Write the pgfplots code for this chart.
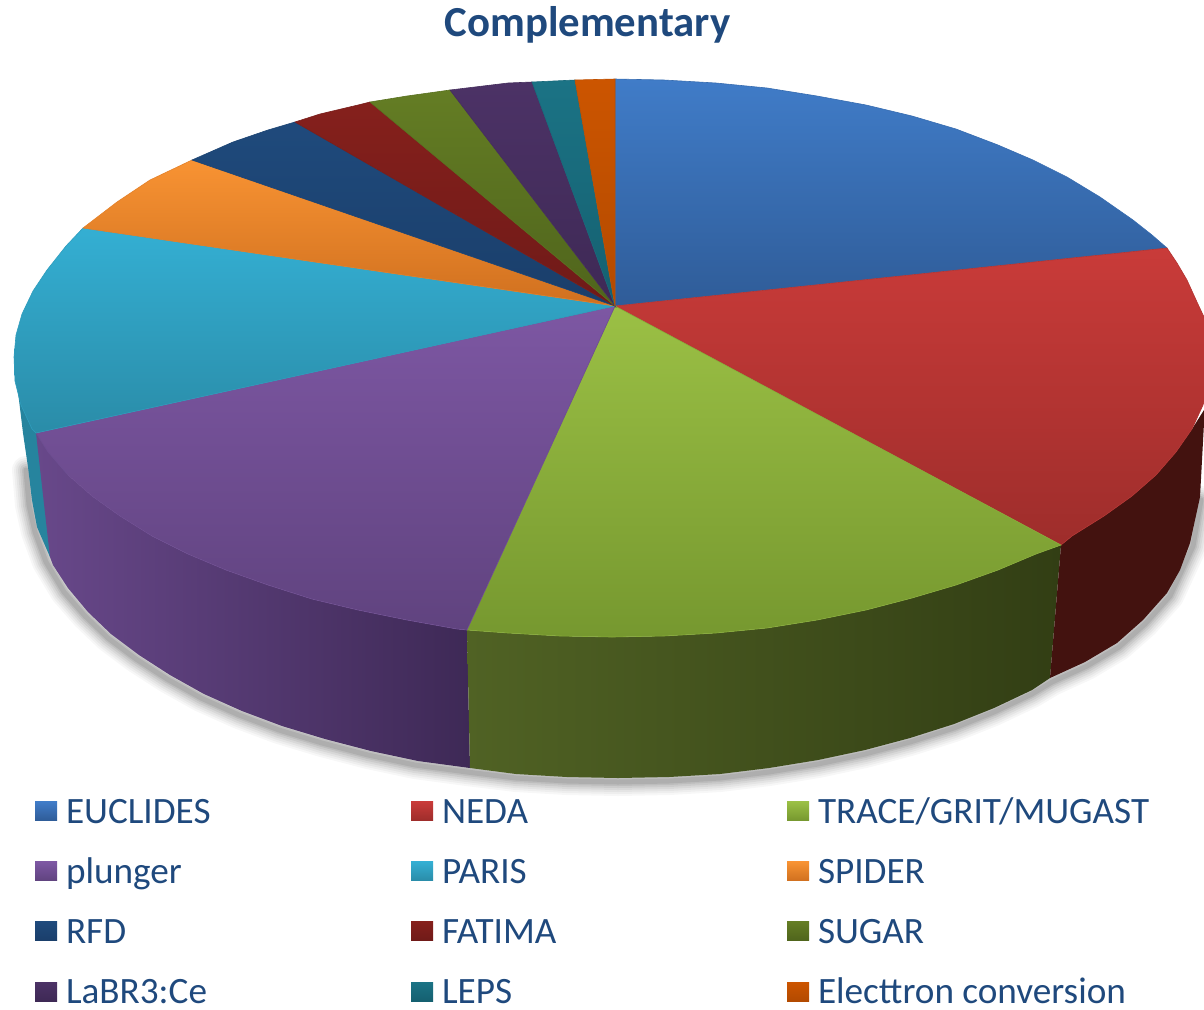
\documentclass[border=0pt]{standalone}
\usepackage{fontspec}
\setmainfont{Carlito}
\usepackage{pgfplots}
\pgfplotsset{compat=1.18}
\definecolor{txt}{HTML}{1F497D}
\newcommand{\LE}[1]{\makebox[177pt][l]{\hspace{4.5pt}\rule[-1pt]{0pt}{14pt}#1}}
\tikzset{tf/.style n args={2}{top color=#1,bottom color=#2,draw=#2!50!#1,line width=0.3pt}}
\definecolor{a1}{HTML}{407CC8}\definecolor{b1}{HTML}{2F5C98}
\definecolor{a2}{HTML}{C93B39}\definecolor{b2}{HTML}{9E2D2B}
\definecolor{a3}{HTML}{9BC045}\definecolor{b3}{HTML}{76982F}
\definecolor{a4}{HTML}{7D57A3}\definecolor{b4}{HTML}{60437F}
\definecolor{a5}{HTML}{34AFD3}\definecolor{b5}{HTML}{2A8CA8}
\definecolor{a6}{HTML}{F89333}\definecolor{b6}{HTML}{D0701F}
\definecolor{a7}{HTML}{1F4A7C}\definecolor{b7}{HTML}{1A3E6A}
\definecolor{a8}{HTML}{85201C}\definecolor{b8}{HTML}{6F1A18}
\definecolor{a9}{HTML}{647D24}\definecolor{b9}{HTML}{4F641C}
\definecolor{a10}{HTML}{4C3266}\definecolor{b10}{HTML}{3E2955}
\definecolor{a11}{HTML}{1B7385}\definecolor{b11}{HTML}{156070}
\definecolor{a12}{HTML}{CC5500}\definecolor{b12}{HTML}{B34A00}
\definecolor{sT}{HTML}{26849E}
\definecolor{sPl}{HTML}{68488A}\definecolor{sPr}{HTML}{3E2956}
\definecolor{sGl}{HTML}{506224}\definecolor{sGr}{HTML}{323E14}
\definecolor{sR}{HTML}{43120F}
\newcommand{\shadowline}[2]{\addplot[forget plot, draw=black, draw opacity=#1, line width=#2, line join=round, line cap=round] coordinates {
 (26,470)(29,505)(35,532)(46,562)(64,592)(85,616)(108,638)(136,659)(167,679)(201,698)(239,715)(279,730)(322,743)(368,755)(415,765)(467,772)(516,778)(567,781)(618,782)(669,781)(720,778)(769,772)(818,764)(865,754)(910,742)(954,728)(994,712)(1032,694)(1052,682)(1087,666)(1119,647)(1145,624)(1170,596)(1193,546)(1201,500)};}
\begin{document}
\begin{tikzpicture}
\path[use as bounding box] (0,0) rectangle (602pt,504.5pt);
\begin{axis}[
  at={(0,0)}, anchor=south west,
  scale only axis, width=602pt, height=504.5pt,
  xmin=0, xmax=1204, ymin=0, ymax=1009, y dir=reverse,
  hide axis, clip=true, no markers,
  legend columns=3,
  legend cell align=left,
  legend style={at={(axis cs:35,797)}, anchor=north west, draw=none, fill=none,
    inner sep=0pt, outer sep=0pt, row sep=15.6pt, column sep=0pt,
    nodes={inner sep=0pt, outer sep=0pt, text=txt, font=\fontsize{18.6}{20}\selectfont},
    /tikz/every even column/.append style={column sep=0pt},
    /tikz/every odd column/.append style={column sep=0pt}},
  legend image code/.code={\path[#1,draw=none] (0pt,-4.5pt) rectangle (11pt,5pt);},
]
% soft shadow below the pie
\shadowline{0.03}{14pt}
\shadowline{0.035}{12pt}
\shadowline{0.045}{10pt}
\shadowline{0.05}{8pt}
\shadowline{0.06}{6pt}
\shadowline{0.07}{4pt}
\shadowline{0.08}{2.5pt}
% side faces
\addplot[forget plot, fill=sT, draw=none] coordinates {
 (60,433)(36,433)(14,360)(19,400)(23,433)(28,467)(32,500)(37,527)(50,557)(80,540)} --cycle;
\addplot[forget plot, left color=sPl, right color=sPr, draw=none] coordinates {
 (36,433)(48,452)(68,475)(92,496)(120,516)(152,536)(188,554)(226,570)(268,585)(312,599)(358,610)(407,620)(457,629)(467,630)
 (470,768)(418,761)(371,751)(325,739)(282,726)(242,711)(204,694)(170,675)(139,655)(111,634)(88,612)(68,588)(53,565)(50,557)} --cycle;
\addplot[forget plot, left color=sGl, right color=sGr, draw=none] coordinates {
 (467,630)(508,633)(560,636)(612,637)(664,636)(716,633)(767,628)(817,620)(866,610)(912,598)(956,585)(998,570)(1036,554)(1061,545)
 (1050,678)(1032,690)(994,708)(954,724)(910,738)(865,750)(818,760)(769,768)(720,774)(669,777)(618,778)(567,777)(516,774)(470,768)} --cycle;
\addplot[forget plot, fill=sR, draw=none] coordinates {
 (1061,545)(1072,536)(1104,516)(1132,496)(1156,475)(1176,452)(1192,429)(1204,410)(1204,423)
 (1200,497)(1190,543)(1180,570)(1167,593)(1143,620)(1117,643)(1085,662)(1050,678)} --cycle;
% top faces
\addplot[tf={a1}{b1}] coordinates {
 (615,306)(615,79)(664,80)(716,83)(767,88)(817,96)(866,105)(912,116)(956,129)(998,145)(1033,160)(1067,177)(1100,197)(1133,220)(1152,235)(1167,248)} --cycle;
\addlegendentry{\LE{EUCLIDES}}
\addplot[tf={a2}{b2}] coordinates {
 (615,306)(1167,248)(1177,263)(1187,280)(1197,302)(1204,317)(1210,335)(1212,357)(1210,381)(1203,405)(1192,429)(1176,452)(1156,475)(1132,496)(1104,516)(1072,536)(1061,545)} --cycle;
\addlegendentry{\LE{NEDA}}
\addplot[tf={a3}{b3}] coordinates {
 (615,306)(1061,545)(1036,554)(998,570)(956,585)(912,598)(866,610)(817,620)(767,628)(716,633)(664,636)(612,637)(560,636)(508,633)(467,630)} --cycle;
\addlegendentry{\LE{TRACE/GRIT/MUGAST}}
\addplot[tf={a4}{b4}] coordinates {
 (615,306)(467,630)(457,629)(407,620)(358,610)(312,599)(268,585)(226,570)(188,554)(152,536)(120,516)(92,496)(68,475)(48,452)(36,433)} --cycle;
\addlegendentry{\LE{plunger}}
\addplot[tf={a5}{b5}] coordinates {
 (615,306)(36,433)(32,429)(21,405)(15,381)(14,357)(16,335)(22,314)(33,291)(47,270)(66,246)(83,228)} --cycle;
\addlegendentry{\LE{PARIS}}
\addplot[tf={a6}{b6}] coordinates {
 (615,306)(83,228)(117,202)(150,180)(192,160)} --cycle;
\addlegendentry{\LE{SPIDER}}
\addplot[tf={a7}{b7}] coordinates {
 (615,306)(192,160)(233,142)(268,130)(295,122)} --cycle;
\addlegendentry{\LE{RFD}}
\addplot[tf={a8}{b8}] coordinates {
 (615,306)(295,122)(320,114)(358,105)(370,102)} --cycle;
\addlegendentry{\LE{FATIMA}}
\addplot[tf={a9}{b9}] coordinates {
 (615,306)(370,102)(407,96)(450,90)} --cycle;
\addlegendentry{\LE{SUGAR}}
\addplot[tf={a10}{b10}] coordinates {
 (615,306)(450,90)(508,83)(532,82)} --cycle;
\addlegendentry{\LE{LaBR3:Ce}}
\addplot[tf={a11}{b11}] coordinates {
 (615,306)(532,82)(575,80)} --cycle;
\addlegendentry{\LE{LEPS}}
\addplot[tf={a12}{b12}] coordinates {
 (615,306)(575,80)(615,79)} --cycle;
\addlegendentry{\LE{Electtron conversion}}
\node[text=txt, font=\bfseries\fontsize{21.4}{24}\selectfont, anchor=center] at (axis cs:587.5,25) {Complementary};
\end{axis}
\end{tikzpicture}
\end{document}
